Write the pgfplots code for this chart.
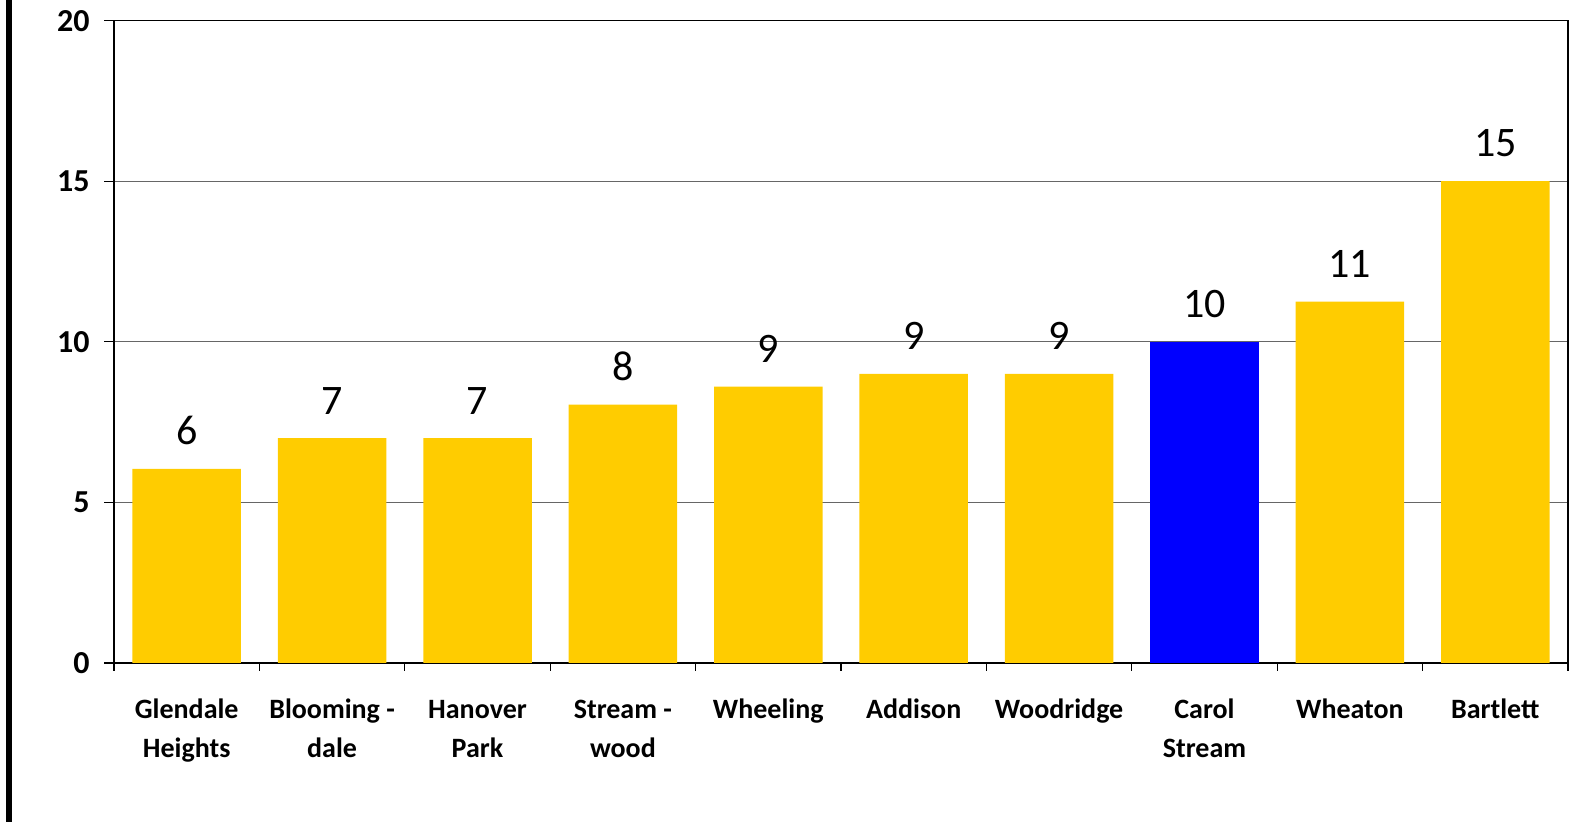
\documentclass[border=0pt]{standalone}
\usepackage{pgfplots}
\pgfplotsset{compat=1.18}
\usepackage{fontspec}
\setmainfont{Carlito}
\definecolor{baryellow}{RGB}{255,204,0}
\definecolor{barblue}{RGB}{0,0,255}

% Bar heights per municipality (x = category index)
\pgfplotstableread{
x y
0 6.04
1 7.0
2 7.0
3 8.04
4 8.6
5 9.0
6 9.0
8 11.25
9 15.0
}\others
\pgfplotstableread{
x y
7 10.0
}\carol

\begin{document}
\begin{tikzpicture}
\useasboundingbox (0,0) rectangle (787.5pt,411pt);
\fill[black] (3pt,0) rectangle (6pt,411pt);
\begin{axis}[
  at={(57pt,79.5pt)}, anchor=south west,
  scale only axis, width=727pt, height=321.25pt,
  xmin=-0.5, xmax=9.5, ymin=0, ymax=20,
  ytick={0,5,10,15,20},
  xtick={0,...,9},
  xticklabels={{Glendale\\Heights},{Blooming -\\dale},{Hanover\\Park},{Stream -\\wood},
    Wheeling,Addison,Woodridge,{Carol\\Stream},Wheaton,Bartlett},
  minor xtick={-0.5,0.5,...,9.5},
  major x tick style={draw=none},
  tick align=outside, tick pos=left,
  major tick length=5pt, minor tick length=4pt,
  tick style={black, line width=0.6pt},
  ymajorgrids, grid style={black!60, line width=0.5pt},
  axis line style={line width=0.6pt},
  /pgf/number format/assume math mode=true,
  /pgf/number format/fixed, /pgf/number format/precision=0,
  typeset ticklabels with strut,
  yticklabel style={font=\bfseries\fontsize{16}{19}\selectfont, inner sep=0pt,
    anchor=east, xshift=-7pt, yshift=-1.5pt},
  xticklabel style={font=\bfseries\fontsize{14}{19.5}\selectfont, align=center,
    anchor=north, inner sep=0pt, yshift=-9pt},
  ybar, bar width=54.25pt, bar shift=0pt,
  nodes near coords,
  every node near coord/.append style={font=\fontsize{21}{25}\selectfont,
    inner sep=0pt, yshift=11.75pt, black},
]
\addplot[fill=baryellow, draw=none] table[x=x, y=y] {\others};
\addplot[fill=barblue, draw=none] table[x=x, y=y] {\carol};
\end{axis}
\end{tikzpicture}
\end{document}
